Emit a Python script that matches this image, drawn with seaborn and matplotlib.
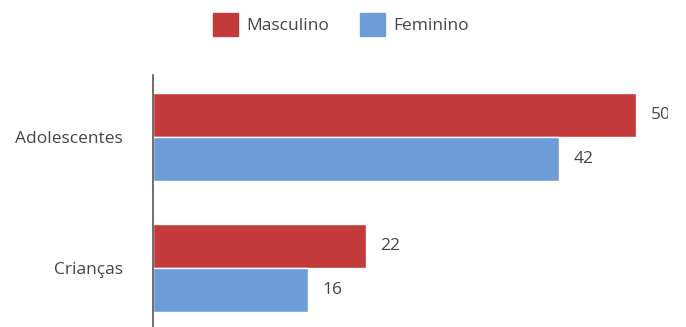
import matplotlib
matplotlib.use("Agg")
import matplotlib.pyplot as plt
import seaborn as sns
import pandas as pd

categories = ["Adolescentes", "Crianças"]
masculino = [50, 22]
feminino = [42, 16]
series = ["Masculino", "Feminino"]
colors = ["#c23b3a", "#6d9dd6"]

df = pd.DataFrame({
    "grupo": categories * 2,
    "valor": masculino + feminino,
    "sexo": [series[0]] * len(categories) + [series[1]] * len(categories),
})

sns.set_theme(style="white")
plt.rcParams["font.family"] = ["Open Sans", "DejaVu Sans"]
text_color = "#454545"
fs = 12.5

fig = plt.figure(figsize=(6.86, 3.27), dpi=100)
ax = fig.add_axes([153 / 686, 0.0, (668 - 153) / 686, 0.771])

sns.barplot(data=df, y="grupo", x="valor", hue="sexo", order=categories,
            hue_order=series, palette=colors, orient="h", width=0.67,
            saturation=1, ax=ax, legend=False)

# value labels sit right of each bar; anything past the plot area is cut off
for cont in ax.containers:
    ax.bar_label(cont, labels=[f"{v:.0f}" for v in cont.datavalues],
                 padding=10.5, fontsize=fs, color=text_color, clip_on=True)

ax.set_xlim(0, 50 * 515 / 483)
ax.set_ylim(1.45, -0.473)
ax.set_xlabel("")
ax.set_ylabel("")
ax.set_xticks([])
ax.tick_params(axis="y", length=0, pad=21.5, labelsize=fs, labelcolor=text_color)
for side in ["top", "right", "bottom"]:
    ax.spines[side].set_visible(False)
ax.spines["left"].set_color("#555555")
ax.spines["left"].set_linewidth(1.2)

handles = [plt.Rectangle((0, 0), 1, 1, color=c) for c in colors]
fig.legend(handles, series, loc="center", bbox_to_anchor=(0.497, 0.925), ncol=2,
           frameon=False, fontsize=fs, labelcolor=text_color, handlelength=1.45,
           handleheight=1.6, handletextpad=0.45, columnspacing=1.8)

fig.savefig("out.png", dpi=100)
